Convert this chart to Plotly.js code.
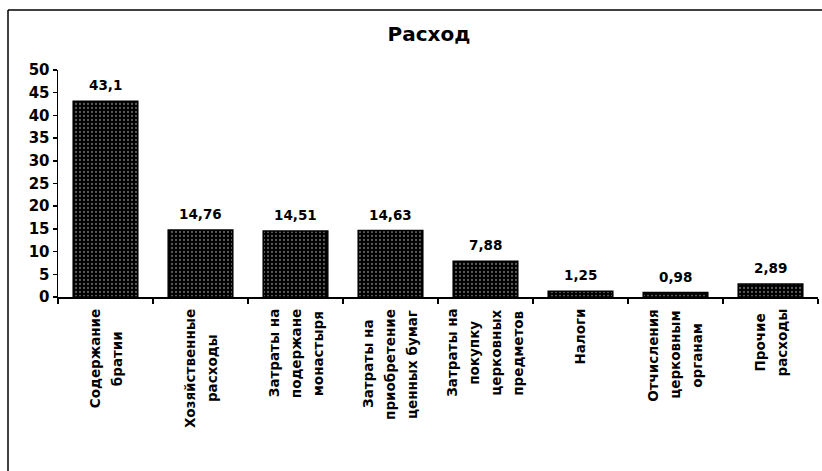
<!DOCTYPE html>
<html>
<head>
<meta charset="utf-8">
<script src="https://cdn.plot.ly/plotly-3.0.1.min.js"></script>
<style>
html,body{margin:0;padding:0;background:#fff;}
#chart{width:822px;height:471px;}
</style>
</head>
<body>
<div id="chart"></div>
<script>
const categories = [
  'Содержание<br>братии',
  'Хозяйственные<br>расходы',
  'Затраты на<br>подержане<br>монастыря',
  'Затраты на<br>приобретение<br>ценных бумаг',
  'Затраты на<br>покупку<br>церковных<br>предметов',
  'Налоги',
  'Отчисления<br>церковным<br>органам',
  'Прочие<br>расходы'
];
const values = [43.1, 14.76, 14.51, 14.63, 7.88, 1.25, 0.98, 2.89];
const valueLabels = ['43,1', '14,76', '14,51', '14,63', '7,88', '1,25', '0,98', '2,89'];
const yTicks = [0, 5, 10, 15, 20, 25, 30, 35, 40, 45, 50];
const chartTitle = 'Расход';

const FONT = 'DejaVu Sans, Arial, sans-serif';
const catFontSize = 13.5;
const lineStep = 22;

const canvas = document.createElement('canvas');
const ctx = canvas.getContext('2d');
ctx.font = 'bold ' + catFontSize + 'px "DejaVu Sans"';

const annotations = [];
// data labels
values.forEach((v, i) => {
  annotations.push({
    x: categories[i], y: v, xref: 'x', yref: 'y',
    text: valueLabels[i], showarrow: false,
    xanchor: 'center', yanchor: 'bottom', yshift: 6,
    font: {family: FONT, size: 13.5, color: '#000', weight: 'bold'}
  });
});
// category labels, rotated, centered lines
categories.forEach((c) => {
  const lines = c.split('<br>');
  const maxW = Math.max(...lines.map(l => ctx.measureText(l).width));
  const n = lines.length;
  lines.forEach((l, j) => {
    annotations.push({
      x: c, y: 0, xref: 'x', yref: 'paper',
      text: l, showarrow: false, textangle: -90,
      xanchor: 'center', yanchor: 'middle',
      xshift: (j - (n - 1) / 2) * lineStep,
      yshift: -(12 + maxW / 2),
      font: {family: FONT, size: catFontSize, color: '#000', weight: 'bold'}
    });
  });
});

const trace = {
  type: 'bar',
  x: categories,
  y: values,
  marker: {
    color: '#000',
    line: {color: '#000', width: 1.5},
    pattern: {shape: '.', bgcolor: '#000', fgcolor: '#5a5a5a', size: 4, solidity: 0.25}
  },
  hoverinfo: 'none'
};

const pxX = px => (px - 58) / 760;
const pxY = py => (297 - py) / 227;

const layout = {
  width: 822, height: 471,
  margin: {l: 58, r: 4, t: 70, b: 174},
  paper_bgcolor: '#fff', plot_bgcolor: '#fff',
  showlegend: false,
  bargap: 0.32,
  title: {
    text: chartTitle,
    font: {family: FONT, size: 20, color: '#000', weight: 'bold'},
    x: pxX(429), xref: 'paper', xanchor: 'center',
    y: 1 - 34 / 471, yref: 'container', yanchor: 'middle'
  },
  xaxis: {
    type: 'category',
    showticklabels: false,
    showline: true, linecolor: '#000', linewidth: 1.5,
    ticks: 'outside', ticklen: 5, tickcolor: '#000', tickwidth: 1.5, tickson: 'boundaries',
    showgrid: false, zeroline: false, fixedrange: true
  },
  yaxis: {
    range: [0, 50],
    tickvals: yTicks,
    showline: true, linecolor: '#000', linewidth: 1.5,
    ticks: 'outside', ticklen: 4, tickcolor: '#000', tickwidth: 1.5,
    showgrid: false, zeroline: false,
    tickfont: {family: FONT, size: 15, color: '#000', weight: 'bold'},
    fixedrange: true
  },
  annotations: annotations,
  shapes: [
    {type: 'line', xref: 'paper', yref: 'paper', x0: pxX(8), x1: pxX(8), y0: pxY(10), y1: pxY(480), line: {color: '#000', width: 1.5}},
    {type: 'line', xref: 'paper', yref: 'paper', x0: pxX(8), x1: pxX(830), y0: pxY(10), y1: pxY(10), line: {color: '#000', width: 1.5}}
  ]
};

Plotly.newPlot('chart', [trace], layout, {displayModeBar: false, staticPlot: true});
</script>
</body>
</html>
